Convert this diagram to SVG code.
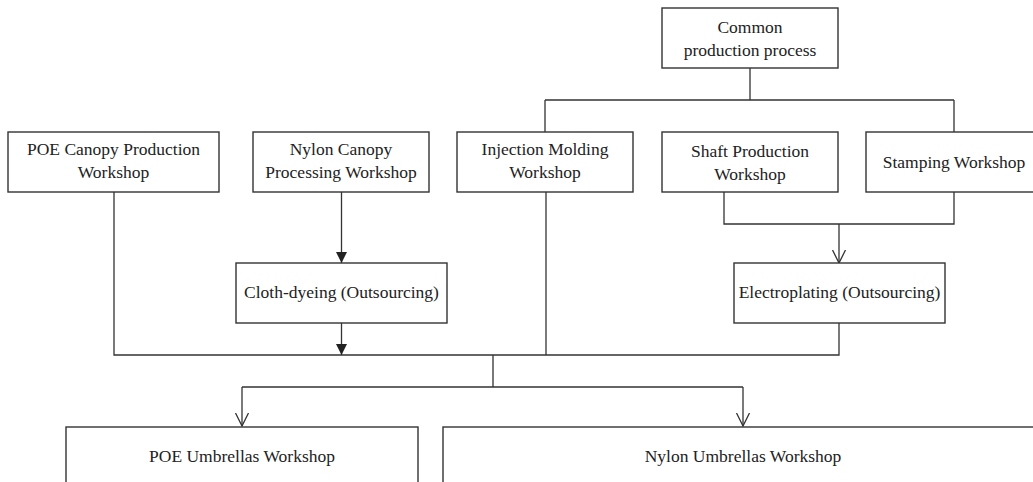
<svg xmlns="http://www.w3.org/2000/svg" width="1033" height="482" viewBox="0 0 1033 482">
<style>
.box{fill:#fff;stroke:#333;stroke-width:1.4}
.t{font-family:"Liberation Serif","Times New Roman",serif;font-size:17.5px;fill:#222;text-anchor:middle}
.ln{fill:none;stroke:#333;stroke-width:1.3}
</style>
<defs>
<marker id="fa" markerUnits="userSpaceOnUse" markerWidth="11" markerHeight="11" refX="10" refY="5" orient="auto" viewBox="0 0 10 10">
<path d="M0,0 L10,5 L0,10 z" fill="#222"/>
</marker>
<marker id="oa" markerUnits="userSpaceOnUse" markerWidth="14" markerHeight="16" refX="13" refY="7" orient="auto" viewBox="0 0 14 14">
<path d="M0,0.5 L13,7 L0,13.5" fill="none" stroke="#333" stroke-width="1.3"/>
</marker>
</defs>
<rect width="1033" height="482" fill="#fff"/>
<g id="connectors" class="ln">
<path d="M750,68 V100 M545,100 H954 M545,100 V132 M954,100 V132"/>
<path d="M114,192 V355 H839 V323"/>
<path d="M341.5,192 V263" marker-end="url(#fa)"/>
<path d="M341.5,323 V355" marker-end="url(#fa)"/>
<path d="M546,192 V355"/>
<path d="M724,192 V224 H954 V192"/>
<path d="M839,224 V263" marker-end="url(#oa)"/>
<path d="M493,355 V387 M242,387 H743"/>
<path d="M242,387 V426" marker-end="url(#oa)"/>
<path d="M743,387 V426" marker-end="url(#oa)"/>
</g>
<g id="common"><rect class="box" x="662" y="8" width="176" height="60"/><text class="t" x="750" y="33">Common</text><text class="t" x="750" y="56">production process</text></g>
<g id="poe-canopy"><rect class="box" x="8" y="132" width="211" height="60"/><text class="t" x="113.5" y="155">POE Canopy Production</text><text class="t" x="113.5" y="178">Workshop</text></g>
<g id="nylon-canopy"><rect class="box" x="253" y="132" width="176" height="60"/><text class="t" x="341" y="155">Nylon Canopy</text><text class="t" x="341" y="178">Processing Workshop</text></g>
<g id="injection"><rect class="box" x="457" y="132" width="176" height="60"/><text class="t" x="545" y="155">Injection Molding</text><text class="t" x="545" y="178">Workshop</text></g>
<g id="shaft"><rect class="box" x="662" y="132" width="176" height="60"/><text class="t" x="750" y="157">Shaft Production</text><text class="t" x="750" y="180">Workshop</text></g>
<g id="stamping"><rect class="box" x="866" y="132" width="176" height="60"/><text class="t" x="954" y="168">Stamping Workshop</text></g>
<g id="cloth"><rect class="box" x="236" y="263" width="211" height="60"/><text class="t" x="341.5" y="298">Cloth-dyeing (Outsourcing)</text></g>
<g id="electro"><rect class="box" x="734" y="263" width="211" height="60"/><text class="t" x="839.5" y="298">Electroplating (Outsourcing)</text></g>
<g id="poe-umbrellas"><rect class="box" x="66" y="427" width="352" height="70"/><text class="t" x="242" y="462">POE Umbrellas Workshop</text></g>
<g id="nylon-umbrellas"><rect class="box" x="443" y="427" width="600" height="70"/><text class="t" x="743" y="462">Nylon Umbrellas Workshop</text></g>
</svg>
